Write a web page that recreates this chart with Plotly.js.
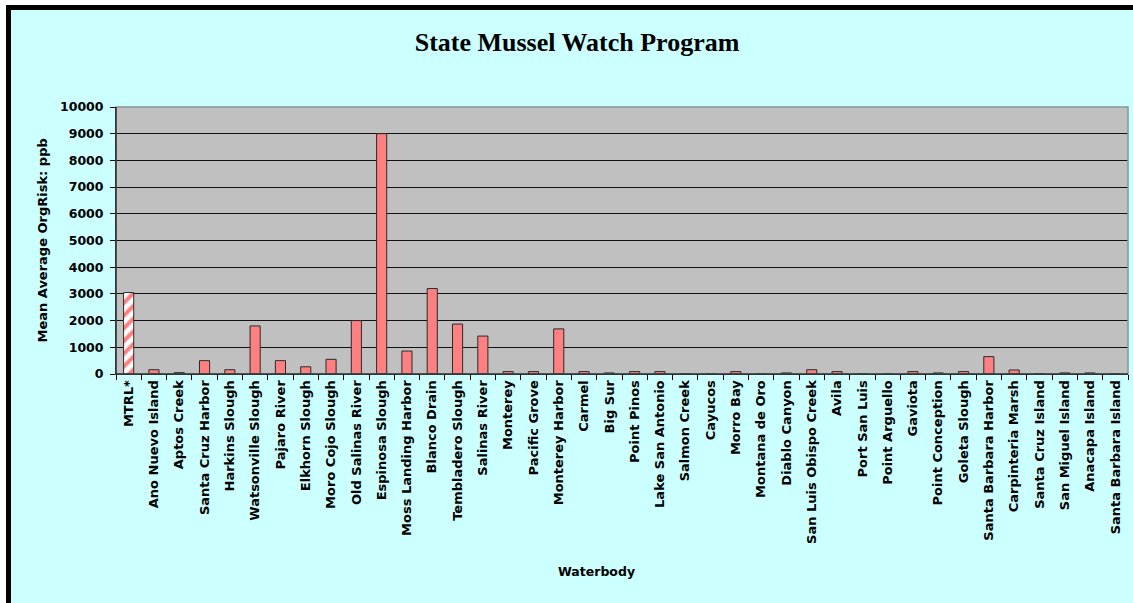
<!DOCTYPE html>
<html>
<head>
<meta charset="utf-8">
<script src="https://cdn.plot.ly/plotly-3.0.1.min.js"></script>
<style>
  html, body { margin: 0; padding: 0; background: #ffffff; width: 1133px; height: 603px; overflow: hidden; }
  #wrap { position: absolute; left: 6px; top: 5px; border-left: 5px solid #000; border-top: 5px solid #000; }
  #chart { width: 1122px; height: 593px; }
</style>
</head>
<body>
<div id="wrap"><div id="chart"></div></div>
<script>
const categories = [
  "MTRL*", "Ano Nuevo Island", "Aptos Creek", "Santa Cruz Harbor", "Harkins Slough",
  "Watsonville Slough", "Pajaro River", "Elkhorn Slough", "Moro Cojo Slough", "Old Salinas River",
  "Espinosa Slough", "Moss Landing Harbor", "Blanco Drain", "Tembladero Slough", "Salinas River",
  "Monterey", "Pacific Grove", "Monterey Harbor", "Carmel", "Big Sur",
  "Point Pinos", "Lake San Antonio", "Salmon Creek", "Cayucos", "Morro Bay",
  "Montana de Oro", "Diablo Canyon", "San Luis Obispo Creek", "Avila", "Port San Luis",
  "Point Arguello", "Gaviota", "Point Conception", "Goleta Slough", "Santa Barbara Harbor",
  "Carpinteria Marsh", "Santa Cruz Island", "San Miguel Island", "Anacapa Island", "Santa Barbara Island"
];
const meanOrgRisk = [
  3050, 160, 50, 500, 160,
  1800, 500, 270, 550, 2000,
  9000, 860, 3200, 1870, 1420,
  90, 90, 1690, 90, 40,
  90, 90, 0, 0, 90,
  0, 40, 160, 90, 0,
  0, 90, 40, 90, 650,
  150, 0, 40, 40, 0
];
const yTickValues = [0, 1000, 2000, 3000, 4000, 5000, 6000, 7000, 8000, 9000, 10000];
const yTickLabels = ["0", "1000", "2000", "3000", "4000", "5000", "6000", "7000", "8000", "9000", "10000"];
const patternShapes = categories.map((c, i) => i === 0 ? "/" : "");
const patternBg = categories.map((c, i) => i === 0 ? "#FFFFFF" : "#FF8080");

const trace = {
  type: "bar",
  x: categories,
  y: meanOrgRisk,
  marker: {
    color: "#FF8080",
    line: { color: "#2a2a2a", width: 1 },
    pattern: { shape: patternShapes, fgcolor: "#FF8080", bgcolor: patternBg, size: 9, solidity: 0.45, fillmode: "replace" }
  },
  hoverinfo: "x+y"
};

const layout = {
  width: 1122, height: 593,
  paper_bgcolor: "#CCFFFF",
  plot_bgcolor: "#C0C0C0",
  margin: { l: 105, r: 5, t: 97, b: 229 },
  bargap: 0.6,
  showlegend: false,
  title: {
    text: "State Mussel Watch Program",
    x: 0.5045, xref: "container", xanchor: "center",
    y: 0.947, yref: "container", yanchor: "middle",
    font: { family: "Liberation Serif", size: 26, color: "#000", weight: "bold" }
  },
  xaxis: {
    type: "category",
    tickangle: -90,
    tickson: "boundaries",
    ticks: "outside", ticklen: 5, tickcolor: "#000", tickwidth: 1,
    showline: true, linecolor: "#000", linewidth: 1,
    showgrid: false,
    tickfont: { family: "DejaVu Sans", size: 13, color: "#000", weight: "bold" },
    range: [-0.5, 39.5],
    fixedrange: true
  },
  yaxis: {
    range: [0, 10000],
    tickmode: "array",
    tickvals: yTickValues,
    ticktext: yTickLabels,
    ticks: "outside", ticklen: 5, tickcolor: "#000", tickwidth: 1,
    showline: true, linecolor: "#000", linewidth: 1,
    showgrid: true, gridcolor: "#111111", gridwidth: 1,
    zeroline: false,
    tickfont: { family: "DejaVu Sans", size: 12.5, color: "#000", weight: "bold" },
    ticklabelstandoff: 4,
    fixedrange: true
  },
  shapes: [
    { type: "rect", xref: "paper", yref: "paper", x0: 0, x1: 1, y0: 0, y1: 1,
      line: { color: "#8a9494", width: 1.5 }, fillcolor: "rgba(0,0,0,0)", layer: "above" },
    { type: "line", xref: "paper", yref: "paper", x0: 0, x1: 1, y0: 0, y1: 0,
      line: { color: "#000", width: 1 }, layer: "above" },
    { type: "line", xref: "paper", yref: "paper", x0: 0, x1: 0, y0: 0, y1: 1,
      line: { color: "#000", width: 1 }, layer: "above" }
  ],
  annotations: [
    { text: "Waterbody", xref: "paper", yref: "paper", x: 0.475, y: -0.738,
      xanchor: "center", yanchor: "middle", showarrow: false,
      font: { family: "DejaVu Sans", size: 12.5, color: "#000", weight: "bold" } },
    { text: "Mean Average OrgRisk: ppb", xref: "paper", yref: "paper", x: -0.0731, y: 0.5,
      xanchor: "center", yanchor: "middle", textangle: -90, showarrow: false,
      font: { family: "DejaVu Sans", size: 13, color: "#000", weight: "bold" } }
  ]
};

Plotly.newPlot("chart", [trace], layout, { displayModeBar: false, staticPlot: true });
</script>
</body>
</html>
